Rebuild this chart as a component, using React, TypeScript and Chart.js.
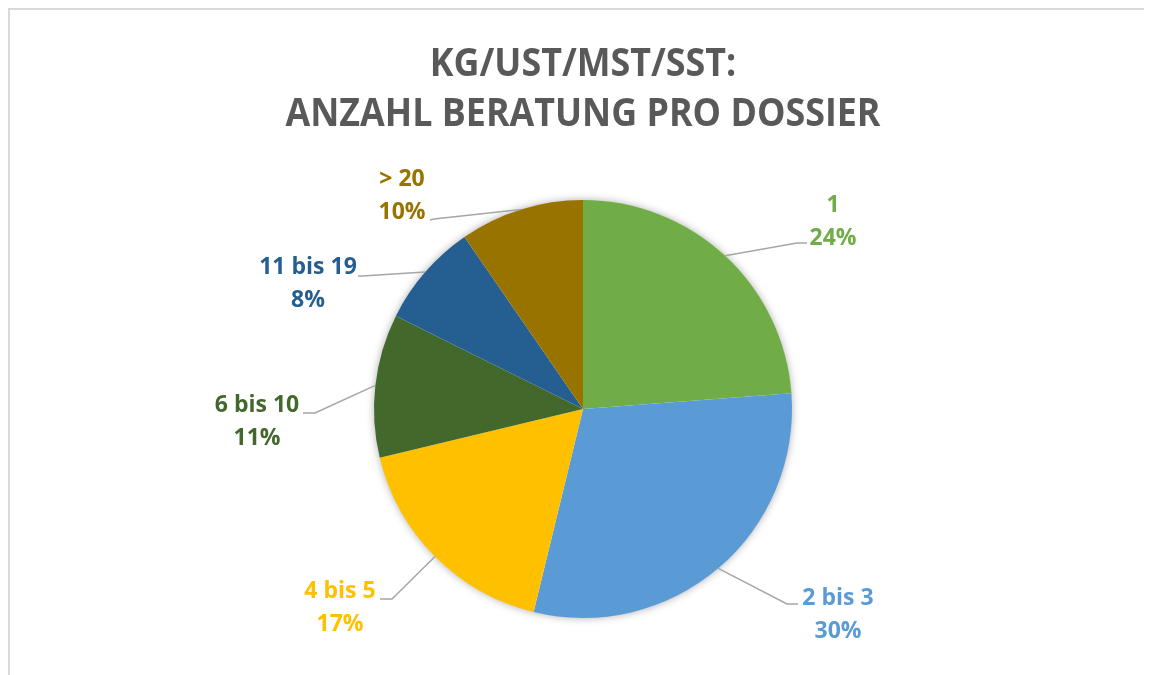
import React, { useEffect, useRef } from "react";
import { Chart, registerables } from "chart.js";

Chart.register(...registerables);

// ---- data ----
const categories = ["1", "2 bis 3", "4 bis 5", "6 bis 10", "11 bis 19", "> 20"];
const shares = [23.8, 30.0, 17.45, 11.1, 8.05, 9.6];
const titleLines = ["KG/UST/MST/SST:", "ANZAHL BERATUNG PRO DOSSIER"];

// ---- styles ----
const sliceColors = ["#70AD47", "#5B9BD5", "#FFC000", "#43682B", "#255E91", "#997300"];
const titleColor = "#595959";
const leaderColor = "#A6A6A6";
const FONT = "'Open Sans', 'DejaVu Sans', sans-serif";

// label placement, offsets (px) from pie centre: text centre, elbow, leader end
const labelLayout = [
  { tx: 250, ty: -187, ex: 214, ey: -166, lx: 224, ly: -166 },
  { tx: 255, ty: 206, ex: 204, ey: 195, lx: 215, ly: 195 },
  { tx: -243, ty: 199, ex: -191, ey: 190, lx: -203, ly: 190 },
  { tx: -326, ty: 13, ex: -268, ey: 4, lx: -280, ly: 4 },
  { tx: -275, ty: -125, ex: -221, ey: -133, lx: -225, ly: -133 },
  { tx: -181, ty: -213, ex: -149, ey: -190, lx: -153, ly: -189 },
];

const shadowPlugin = {
  id: "pieShadow",
  beforeDatasetsDraw(chart: any) {
    const meta = chart.getDatasetMeta(0);
    const el = meta.data[0];
    if (!el) return;
    const { x, y, outerRadius } = el.getProps(["x", "y", "outerRadius"], true);
    const ctx = chart.ctx;
    ctx.save();
    ctx.shadowColor = "rgba(0,0,0,0.35)";
    ctx.shadowBlur = 9;
    ctx.shadowOffsetX = 0;
    ctx.shadowOffsetY = 0;
    ctx.fillStyle = "#ffffff";
    ctx.beginPath();
    ctx.arc(x, y, outerRadius - 0.5, 0, Math.PI * 2);
    ctx.fill();
    ctx.restore();
  },
};

const labelPlugin = {
  id: "pieLabels",
  afterDatasetsDraw(chart: any) {
    const ctx = chart.ctx;
    const meta = chart.getDatasetMeta(0);
    const total = shares.reduce((a, b) => a + b, 0);
    meta.data.forEach((el: any, i: number) => {
      const { x, y, startAngle, endAngle, outerRadius } = el.getProps(
        ["x", "y", "startAngle", "endAngle", "outerRadius"],
        true
      );
      const mid = (startAngle + endAngle) / 2;
      const sx = x + Math.cos(mid) * outerRadius;
      const sy = y + Math.sin(mid) * outerRadius;
      const L = labelLayout[i];
      ctx.save();
      ctx.strokeStyle = leaderColor;
      ctx.lineWidth = 1.5;
      ctx.beginPath();
      ctx.moveTo(sx, sy);
      ctx.lineTo(x + L.ex, y + L.ey);
      ctx.lineTo(x + L.lx, y + L.ly);
      ctx.stroke();
      ctx.fillStyle = sliceColors[i];
      ctx.font = `bold 23px ${FONT}`;
      ctx.textAlign = "center";
      ctx.textBaseline = "middle";
      const pct = Math.round((shares[i] / total) * 100) + "%";
      ctx.fillText(categories[i], x + L.tx, y + L.ty - 16.5);
      ctx.fillText(pct, x + L.tx, y + L.ty + 16.5);
      ctx.restore();
    });
  },
  afterDraw(chart: any) {
    const ctx = chart.ctx;
    const area = chart.chartArea;
    const cx = (area.left + area.right) / 2;
    ctx.save();
    ctx.font = `bold 40px ${FONT}`;
    ctx.fillStyle = titleColor;
    ctx.textAlign = "center";
    ctx.textBaseline = "alphabetic";
    const widest = Math.max(...titleLines.map((t) => ctx.measureText(t).width));
    const scale = Math.min(1, 595 / widest);
    const baselines = [66, 116];
    titleLines.forEach((t, i) => {
      ctx.save();
      ctx.translate(cx, baselines[i]);
      ctx.scale(scale, 1);
      ctx.fillText(t, 0, 0);
      ctx.restore();
    });
    ctx.restore();
  },
};

export default function App() {
  const canvasRef = useRef<HTMLCanvasElement | null>(null);

  useEffect(() => {
    document.documentElement.style.overflow = "hidden";
    document.body.style.overflow = "hidden";
    if (!canvasRef.current) return;
    const chart = new Chart(canvasRef.current, {
      type: "pie",
      data: {
        labels: categories,
        datasets: [
          {
            data: shares,
            backgroundColor: sliceColors,
            borderWidth: 0,
          },
        ],
      },
      options: {
        animation: false,
        responsive: false,
        maintainAspectRatio: false,
        layout: { padding: { top: 190, bottom: 57, left: 100, right: 96 } },
        plugins: {
          legend: { display: false },
          title: { display: false },
          tooltip: { enabled: false },
        },
      },
      plugins: [shadowPlugin, labelPlugin],
    });
    return () => chart.destroy();
  }, []);

  return (
    <div
      style={{
        boxSizing: "border-box",
        width: 1144,
        borderTop: "2px solid #D9D9D9",
        borderLeft: "2px solid #D9D9D9",
        height: 667,
        overflow: "hidden",
        background: "#fff",
      }}
    >
      <canvas ref={canvasRef} width={1142} height={665} style={{ display: "block" }} />
    </div>
  );
}
